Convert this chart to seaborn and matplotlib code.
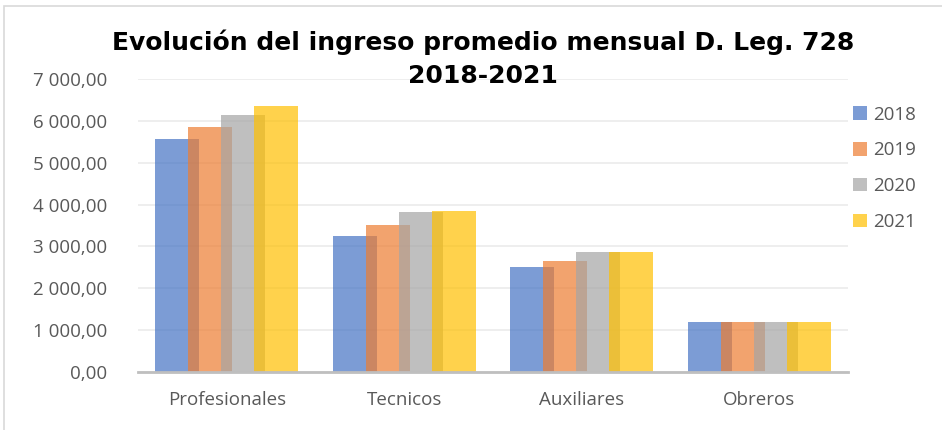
import matplotlib
matplotlib.use("Agg")
import matplotlib.pyplot as plt
import matplotlib.ticker as mticker
import matplotlib.patches as mpatches
import pandas as pd
import seaborn as sns

# data
categories = ["Profesionales", "Tecnicos", "Auxiliares", "Obreros"]
years = ["2018", "2019", "2020", "2021"]
v2018 = [5566, 3249, 2517, 1190]
v2019 = [5858, 3520, 2652, 1190]
v2020 = [6130, 3815, 2860, 1190]
v2021 = [6345, 3854, 2873, 1190]
colors = ["#4472C4", "#ED7D31", "#A5A5A5", "#FFC000"]

rows = []
for yr, vals in zip(years, [v2018, v2019, v2020, v2021]):
    for cat, v in zip(categories, vals):
        rows.append({"cat": cat, "year": yr, "value": v})
df = pd.DataFrame(rows)

sns.set_theme(style="white")
plt.rcParams["font.family"] = ["Open Sans", "DejaVu Sans"]

fig = plt.figure(figsize=(9.42, 4.30), dpi=100)
ax = fig.add_axes([138 / 942, 1 - 372 / 430, 710 / 942, 293 / 430])

sns.barplot(data=df, x="cat", y="value", hue="year", hue_order=years,
            order=categories, palette=colors, saturation=1, alpha=0.7,
            width=0.8, ax=ax, legend=False, errorbar=None)

# make bars overlap like the excel chart
bw = 0.248
for k, cont in enumerate(ax.containers):
    for i, bar in enumerate(cont):
        c = bar.get_x() + bar.get_width() / 2
        nc = i + (c - i) * 0.93
        bar.set_width(bw)
        bar.set_x(nc - bw / 2)
        bar.set_linewidth(0)
        bar.set_zorder(3 + k)

ax.set_xlim(-0.5, 3.5)
ax.set_ylim(0, 7000)
ax.yaxis.set_major_locator(mticker.MultipleLocator(1000))
ax.yaxis.set_major_formatter(mticker.FuncFormatter(
    lambda v, p: f"{v:,.2f}".replace(",", " ").replace(".", ",")))
ax.grid(axis="y", color="#EBEBEB", linewidth=1.2, zorder=0)
ax.set_axisbelow(True)
for s in ["top", "right", "left"]:
    ax.spines[s].set_visible(False)
ax.spines["bottom"].set_color("#BFBFBF")
ax.spines["bottom"].set_linewidth(2)
ax.spines["bottom"].set_zorder(10)
ax.tick_params(axis="y", length=0, pad=22, labelsize=13.5, labelcolor="#595959")
ax.tick_params(axis="x", length=0, pad=14, labelsize=13.5, labelcolor="#595959")
ax.set_xlabel("")
ax.set_ylabel("")

handles = [mpatches.Patch(color=c, alpha=0.7, linewidth=0) for c in colors]
leg = fig.legend(handles, years, loc="upper left", bbox_to_anchor=(845 / 942, 1 - 98 / 430),
                 frameon=False, fontsize=13.5, labelcolor="#595959",
                 handlelength=0.75, handleheight=0.75, handletextpad=0.35,
                 labelspacing=0.95, borderaxespad=0)

fig.text(483 / 942, 1 - 42 / 430, "Evolución del ingreso promedio mensual D. Leg. 728",
         ha="center", va="center", fontsize=18, fontweight="bold",
         family="DejaVu Sans", color="#000000")
fig.text(483 / 942, 1 - 76 / 430, "2018-2021", ha="center", va="center",
         fontsize=18, fontweight="bold", family="DejaVu Sans", color="#000000")

# chart frame
fig.patches.append(mpatches.Rectangle((4 / 942, -0.05), 1.0, 1 - 6 / 430 + 0.05,
                                      transform=fig.transFigure, fill=False,
                                      edgecolor="#D9D9D9", linewidth=1.2))

fig.savefig("out.png", dpi=100)
